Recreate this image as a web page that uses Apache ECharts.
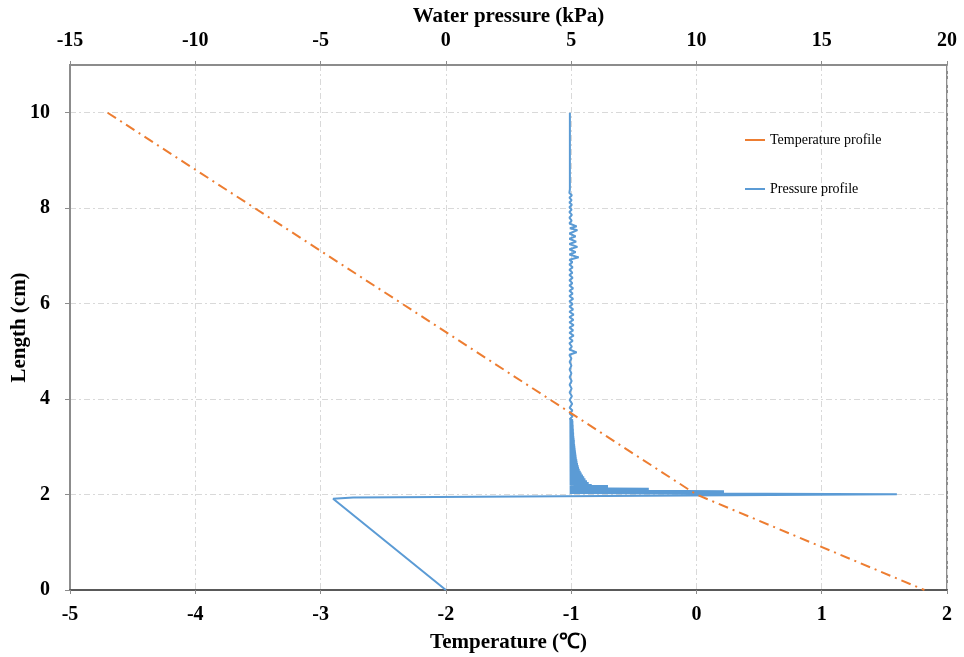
<!DOCTYPE html>
<html>
<head>
<meta charset="utf-8">
<script src="https://cdn.jsdelivr.net/npm/echarts@6/dist/echarts.min.js"></script>
<style>html,body{margin:0;padding:0;background:#fff}#c{width:964px;height:657px}</style>
</head>
<body>
<div id="c"></div>
<script>
// Temperature profile: [temperature °C, length cm]
var temperatureProfile = [[-4.7, 10], [0.0, 2], [1.82, 0]];

// Pressure profile: [water pressure kPa, length cm]
var pressureUpper = [
  [4.95,10.00],[4.95,8.40],[5.02,8.36],[4.93,8.32],[5.03,8.27],[4.93,8.22],[5.02,8.17],[4.93,8.12],
  [5.03,8.07],[4.93,8.02],[5.02,7.97],[4.93,7.92],[5.03,7.86],[4.93,7.80],[5.02,7.74],[4.93,7.68],
  [5.22,7.62],[4.95,7.58],[5.25,7.54],[4.93,7.47],[5.18,7.41],[4.93,7.36],[5.20,7.30],[4.93,7.25],
  [5.25,7.19],[4.93,7.14],[5.18,7.08],[4.93,7.03],[5.30,6.97],[4.93,6.92],[5.05,6.87],[4.93,6.82],
  [5.06,6.76],[4.93,6.71],[5.05,6.65],[4.93,6.60],[5.06,6.54],[4.93,6.49],[5.05,6.43],[4.93,6.38],
  [5.08,6.32],[4.93,6.27],[5.06,6.21],[4.93,6.16],[5.08,6.10],[4.93,6.05],[5.06,5.99],[4.93,5.94],
  [5.08,5.88],[4.93,5.83],[5.10,5.77],[4.93,5.72],[5.09,5.66],[4.93,5.61],[5.10,5.55],[4.93,5.50],
  [5.08,5.44],[4.93,5.39],[5.10,5.33],[4.93,5.28],[5.06,5.22],[4.93,5.17],[5.03,5.10],[4.93,5.04],
  [5.22,4.98],[4.93,4.93],[5.01,4.85],[4.94,4.78],[5.01,4.70],[4.94,4.62],[5.01,4.54],[4.94,4.46],
  [5.02,4.38],[4.94,4.30],[5.02,4.22],[4.94,4.14],[5.03,4.06],[4.94,3.98],[5.04,3.90],[4.94,3.82],
  [5.05,3.76],[4.94,3.70],[5.06,3.64]
];
var pressureFan = [
  [5.07,3.60],[4.94,3.58],[5.07,3.56],[4.94,3.54],[5.08,3.52],[4.94,3.50],[5.08,3.48],[4.94,3.46],
  [5.09,3.44],[4.94,3.42],[5.09,3.40],[4.94,3.38],[5.10,3.36],[4.94,3.34],[5.10,3.32],[4.94,3.30],
  [5.11,3.28],[4.94,3.26],[5.11,3.24],[4.94,3.22],[5.12,3.20],[4.94,3.18],[5.13,3.16],[4.94,3.14],
  [5.14,3.12],[4.94,3.10],[5.14,3.08],[4.94,3.06],[5.15,3.04],[4.94,3.02],[5.16,3.00],[4.94,2.98],
  [5.17,2.96],[4.94,2.94],[5.18,2.92],[4.94,2.90],[5.19,2.88],[4.94,2.86],[5.20,2.84],[4.94,2.82],
  [5.21,2.80],[4.94,2.78],[5.22,2.76],[4.94,2.74],[5.24,2.72],[4.94,2.70],[5.25,2.68],[4.94,2.66],
  [5.27,2.64],[4.94,2.62],[5.29,2.60],[4.94,2.58],[5.31,2.56],[4.94,2.54],[5.34,2.52],[4.94,2.50],
  [5.38,2.48],[4.94,2.46],[5.42,2.44],[4.94,2.42],[5.47,2.40],[4.94,2.38],[5.52,2.36],[4.94,2.34],
  [5.57,2.32],[4.94,2.30],[5.63,2.28],[4.94,2.26],[5.70,2.24],[4.94,2.22],[5.82,2.20],[4.94,2.19]
];
var pressureLower = [
  [6.47,2.18],[4.94,2.17],[6.47,2.16],[4.94,2.15],[6.47,2.14],[4.94,2.13],[8.1,2.12],[4.94,2.11],
  [8.1,2.10],[4.94,2.09],[11.1,2.07],[4.94,2.06],[11.1,2.05],[4.94,2.03],[18.0,2.005],
  [-3.7,1.94],[-4.5,1.91],[0.0,0.0]
];
var pressureProfile = pressureUpper.concat(pressureFan, pressureLower);

var tempTicks = {min: -5, max: 2, interval: 1};
var pressTicks = {min: -15, max: 20, interval: 5};
var lengthTicks = {min: 0, max: 11, interval: 2};

var FONT = '"Liberation Serif", "Times New Roman", serif';
var labelStyle = {color: '#000', fontFamily: FONT, fontWeight: 'bold', fontSize: 20};
var nameStyle = {color: '#000', fontFamily: FONT, fontWeight: 'bold', fontSize: 21};
var gridLine = {show: true, lineStyle: {color: '#d9d9d9', width: 1, type: [6, 3, 2, 3]}};

var chart = echarts.init(document.getElementById('c'), null, {renderer: 'canvas'});
chart.setOption({
  animation: false,
  backgroundColor: '#fff',
  grid: {left: 70, right: 17, top: 65, bottom: 67, containLabel: false, outerBoundsMode: 'none',
    show: true, borderColor: '#8c8c8c', borderWidth: 2, backgroundColor: 'transparent'},
  legend: {
    orient: 'vertical', left: 740, top: 128,
    icon: 'rect', itemWidth: 20, itemHeight: 2, itemGap: 35,
    textStyle: {color: '#000', fontFamily: FONT, fontSize: 14},
    data: ['Temperature profile', 'Pressure profile']
  },
  xAxis: [{
    type: 'value', position: 'bottom', min: tempTicks.min, max: tempTicks.max, interval: tempTicks.interval,
    name: 'Temperature (\u2103)', nameLocation: 'middle', nameGap: 42, nameTextStyle: nameStyle,
    nameMoveOverlap: false,
    axisLine: {show: true, onZero: false, lineStyle: {color: '#595959', width: 2}},
    axisTick: {show: true, length: 4, lineStyle: {color: '#8c8c8c'}},
    axisLabel: Object.assign({margin: 15}, labelStyle),
    splitLine: gridLine
  }, {
    type: 'value', position: 'top', min: pressTicks.min, max: pressTicks.max, interval: pressTicks.interval,
    name: 'Water pressure (kPa)', nameLocation: 'middle', nameGap: 38, nameTextStyle: nameStyle,
    nameMoveOverlap: false,
    axisLine: {show: true, onZero: false, lineStyle: {color: '#8c8c8c', width: 2}},
    axisTick: {show: true, length: 4, lineStyle: {color: '#8c8c8c'}},
    axisLabel: Object.assign({margin: 14}, labelStyle),
    splitLine: {show: false}
  }],
  yAxis: {
    type: 'value', min: lengthTicks.min, max: lengthTicks.max, interval: lengthTicks.interval,
    name: 'Length (cm)', nameLocation: 'middle', nameRotate: 90, nameGap: 40, nameTextStyle: nameStyle,
    nameMoveOverlap: false,
    axisLine: {show: true, onZero: false, lineStyle: {color: '#8c8c8c', width: 2}},
    axisTick: {show: true, length: 5, lineStyle: {color: '#8c8c8c'}},
    axisLabel: Object.assign({margin: 20, showMaxLabel: false}, labelStyle),
    splitLine: gridLine
  },
  series: [{
    name: 'Temperature profile', type: 'line', xAxisIndex: 0, yAxisIndex: 0,
    data: temperatureProfile, showSymbol: false, symbol: 'none',
    itemStyle: {color: '#ED7D31'},
    lineStyle: {color: '#ED7D31', width: 2, type: [10, 5, 2, 5]},
    z: 3
  }, {
    name: 'Pressure profile', type: 'line', xAxisIndex: 1, yAxisIndex: 0,
    data: pressureProfile, showSymbol: false, symbol: 'none',
    itemStyle: {color: '#5B9BD5'},
    lineStyle: {color: '#5B9BD5', width: 2},
    z: 2
  }]
});
</script>
</body>
</html>
